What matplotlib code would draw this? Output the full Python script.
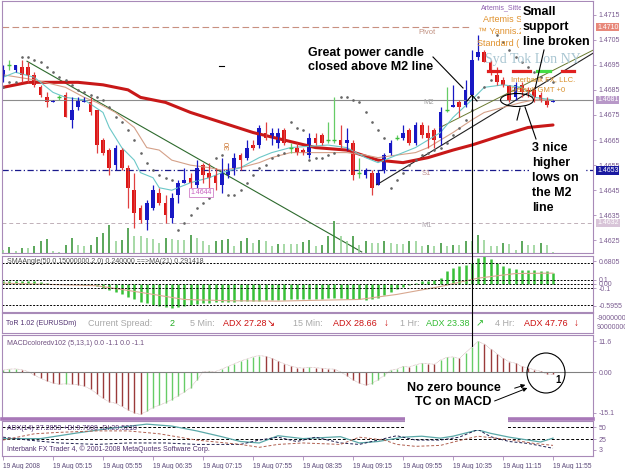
import matplotlib
matplotlib.use('Agg')
import matplotlib.pyplot as plt
import matplotlib.transforms as mtransforms
from matplotlib.patches import Rectangle, Ellipse, FancyArrowPatch
from matplotlib.lines import Line2D
import numpy as np

plt.rcParams['font.family'] = ['Liberation Sans', 'DejaVu Sans']

W, H = 625, 469

# ---- EURUSDm M5 candles, 19 Aug 2008 ----
opens = [1.4690, 1.4695, 1.4693, 1.4694, 1.4694, 1.4691, 1.4686, 1.4682, 1.4680, 1.4682,
         1.4683, 1.4673, 1.4678, 1.4680, 1.4680, 1.4677, 1.4665, 1.4661, 1.4655, 1.4661,
         1.4654, 1.4645, 1.4638, 1.4633, 1.4638, 1.4644, 1.4640, 1.4634, 1.4643, 1.4648,
         1.4650, 1.4647, 1.4655, 1.4652, 1.4651, 1.4647, 1.4651, 1.4654, 1.4659, 1.4658,
         1.4663, 1.4663, 1.4668, 1.4666, 1.4664, 1.4669, 1.4662, 1.4662, 1.4661, 1.4659,
         1.4666, 1.4667, 1.4665, 1.4665, 1.4665, 1.4664, 1.4664, 1.4652, 1.4651, 1.4652,
         1.4647, 1.4653, 1.4660, 1.4666, 1.4666, 1.4669, 1.4664, 1.4671, 1.4668, 1.4669,
         1.4666, 1.4677, 1.4678, 1.4680, 1.4679, 1.4683, 1.4698, 1.4700, 1.4696, 1.4691,
         1.4689, 1.4687, 1.4682, 1.4687, 1.4685, 1.4685, 1.4683, 1.4681, 1.4680]
highs = [1.4695, 1.4697, 1.4695, 1.4697, 1.4696, 1.4692, 1.4687, 1.4684, 1.4681, 1.4683,
         1.4684, 1.4682, 1.4682, 1.4682, 1.4682, 1.4677, 1.4666, 1.4662, 1.4663, 1.4662,
         1.4655, 1.4652, 1.4639, 1.4641, 1.4647, 1.4646, 1.4643, 1.4644, 1.4649, 1.4654,
         1.4652, 1.4657, 1.4656, 1.4656, 1.4654, 1.4658, 1.4656, 1.4660, 1.4660, 1.4665,
         1.4665, 1.4671, 1.4672, 1.4670, 1.4670, 1.4670, 1.4664, 1.4664, 1.4662, 1.4668,
         1.4668, 1.4668, 1.4672, 1.4682, 1.4671, 1.4670, 1.4665, 1.4658, 1.4654, 1.4653,
         1.4653, 1.4660, 1.4665, 1.4667, 1.4671, 1.4670, 1.4672, 1.4672, 1.4671, 1.4670,
         1.4678, 1.4686, 1.4687, 1.4681, 1.4689, 1.4701, 1.4707, 1.4701, 1.4697, 1.4694,
         1.4690, 1.4687, 1.4688, 1.4688, 1.4686, 1.4686, 1.4684, 1.4682, 1.4681]
lows = [1.4688, 1.4693, 1.4692, 1.4688, 1.4688, 1.4686, 1.4682, 1.4678, 1.4680, 1.4681,
        1.4674, 1.4670, 1.4677, 1.4680, 1.4675, 1.4660, 1.4659, 1.4651, 1.4653, 1.4653,
        1.4638, 1.4630, 1.4632, 1.4629, 1.4637, 1.4639, 1.4632, 1.4632, 1.4640, 1.4648,
        1.4646, 1.4646, 1.4648, 1.4646, 1.4645, 1.4644, 1.4650, 1.4651, 1.4653, 1.4657,
        1.4661, 1.4662, 1.4665, 1.4663, 1.4662, 1.4663, 1.4660, 1.4659, 1.4659, 1.4658,
        1.4663, 1.4663, 1.4664, 1.4664, 1.4662, 1.4661, 1.4649, 1.4650, 1.4650, 1.4643,
        1.4647, 1.4652, 1.4659, 1.4665, 1.4665, 1.4663, 1.4663, 1.4666, 1.4662, 1.4662,
        1.4663, 1.4676, 1.4678, 1.4674, 1.4678, 1.4682, 1.4697, 1.4696, 1.4691, 1.4687,
        1.4686, 1.4680, 1.4681, 1.4682, 1.4682, 1.4680, 1.4680, 1.4678, 1.4680]
closes = [1.4693, 1.4695, 1.4695, 1.4691, 1.4691, 1.4687, 1.4683, 1.4680, 1.4681, 1.4682,
          1.4674, 1.4677, 1.4681, 1.4681, 1.4676, 1.4663, 1.4660, 1.4654, 1.4662, 1.4654,
          1.4646, 1.4636, 1.4633, 1.4640, 1.4645, 1.4640, 1.4635, 1.4642, 1.4648, 1.4649,
          1.4648, 1.4654, 1.4651, 1.4650, 1.4648, 1.4652, 1.4653, 1.4658, 1.4657, 1.4662,
          1.4662, 1.4670, 1.4666, 1.4668, 1.4668, 1.4664, 1.4662, 1.4660, 1.4660, 1.4666,
          1.4664, 1.4664, 1.4665, 1.4665, 1.4663, 1.4665, 1.4651, 1.4652, 1.4653, 1.4646,
          1.4652, 1.4659, 1.4664, 1.4666, 1.4668, 1.4664, 1.4671, 1.4667, 1.4666, 1.4665,
          1.4676, 1.4677, 1.4679, 1.4678, 1.4685, 1.4697, 1.4700, 1.4696, 1.4692, 1.4688,
          1.4687, 1.4681, 1.4687, 1.4684, 1.4684, 1.4682, 1.4681, 1.4679, 1.4681]
volumes = [3, 6, 2, 5, 5, 7, 12, 14, 2, 1, 8, 15, 8, 7, 8, 16, 20, 28, 12, 13,
           25, 17, 17, 15, 14, 10, 15, 14, 13, 13, 18, 15, 12, 8, 12, 13, 14, 7, 12, 15,
           10, 13, 12, 7, 9, 9, 9, 9, 11, 13, 7, 8, 17, 32, 17, 12, 17, 8, 12, 10,
           10, 12, 10, 9, 9, 12, 12, 7, 8, 7, 10, 7, 8, 8, 12, 12, 18, 13, 7, 7,
           10, 9, 3, 12, 8, 8, 10, 8, 1]
sar = [1.4686, 1.4688, 1.4688,
       1.4698, 1.4698, 1.4697, 1.4696, 1.4694, 1.4692, 1.4690, 1.4689, 1.4687, 1.4685, 1.4684,
       1.4683, 1.4682, 1.4681, 1.4678, 1.4674, 1.4672, 1.4669, 1.4665, 1.4660, 1.4656, 1.4653,
       1.4651, 1.4650, 1.4649,
       1.4629, 1.4632, 1.4635, 1.4638, 1.4640, 1.4642,
       1.4658, 1.4659,
       1.4643, 1.4643, 1.4645, 1.4648, 1.4651, 1.4654, 1.4655, 1.4658, 1.4659, 1.4660,
       1.4672, 1.4670, 1.4669,
       1.4657, 1.4658, 1.4658, 1.4659, 1.4660,
       1.4682, 1.4682, 1.4681, 1.4680, 1.4676, 1.4672, 1.4669, 1.4666,
       1.4646, 1.4649, 1.4652, 1.4655, 1.4657, 1.4659, 1.4660, 1.4661, 1.4662, 1.4664,
       1.4667, 1.4670, 1.4673, 1.4677, 1.4682, 1.4686, 1.4689,
       1.4707, 1.4704, 1.4701, 1.4698, 1.4696, 1.4694, 1.4692, 1.4690, 1.4689, 1.4688]

# moving averages (vertices)
slow_bars = [0, 4, 8, 12, 16, 20, 22, 26, 30, 35, 40, 45, 50, 55, 60, 64, 68, 72, 75, 80, 84, 88]
slow_vals = [1.4686, 1.4688, 1.4688, 1.4688, 1.4687, 1.4685, 1.4682, 1.4680, 1.4676, 1.4672, 1.4668,
             1.4665, 1.4662, 1.4661, 1.4657, 1.4656, 1.4658, 1.4661, 1.4663, 1.4667, 1.4670, 1.4671]
cyan_bars = [0, 2, 5, 8, 10, 13, 16, 17, 19, 21, 22, 24, 25, 27, 30, 33, 35, 38, 41, 43, 46, 52,
             55, 58, 60, 63, 66, 68, 70, 72, 75, 77, 80, 83, 85, 88]
cyan_vals = [1.4690, 1.4692, 1.4690, 1.4684, 1.4682, 1.4681, 1.4676, 1.4670, 1.4662, 1.4657, 1.4652,
             1.4650, 1.4646, 1.4645, 1.4648, 1.4650, 1.4652, 1.4654, 1.4658, 1.4660, 1.4662, 1.4663,
             1.4662, 1.4658, 1.4656, 1.4659, 1.4662, 1.4665, 1.4668, 1.4674, 1.4681, 1.4686, 1.4687,
             1.4686, 1.4682, 1.4681]
tan_bars = [0, 5, 10, 13, 15, 18, 21, 23, 25, 27, 30, 33, 35, 38, 41, 43, 46, 50, 55, 58, 60, 63,
            66, 68, 72, 75, 77, 80, 83, 85, 88]
tan_vals = [1.4691, 1.4689, 1.4686, 1.4682, 1.4680, 1.4676, 1.4670, 1.4662, 1.4661, 1.4657, 1.4655,
            1.4654, 1.4653, 1.4654, 1.4656, 1.4658, 1.4660, 1.4660, 1.4660, 1.4659, 1.4658, 1.4659,
            1.4660, 1.4662, 1.4668, 1.4673, 1.4676, 1.4678, 1.4680, 1.4681, 1.4681]

# pivot levels
pivot, m2, s1, m1 = 1.4710, 1.4681, 1.4653, 1.4632

# SMAAngle histogram + its MA(21)
sma_angle = [0.06, 0.07, 0.08, 0.08, 0.07, 0.06, 0.04, 0.02, 0.01, 0.01,
             0.0, 0.0, -0.01, -0.02, -0.03, -0.05, -0.10, -0.15, -0.20, -0.25,
             -0.30, -0.35, -0.42, -0.46, -0.50, -0.53, -0.56, -0.58, -0.55, -0.52,
             -0.50, -0.48, -0.46, -0.45, -0.44, -0.43, -0.42, -0.42, -0.41, -0.41,
             -0.40, -0.40, -0.39, -0.39, -0.38, -0.38, -0.37, -0.37, -0.36, -0.36,
             -0.35, -0.35, -0.34, -0.34, -0.34, -0.35, -0.36, -0.37, -0.38, -0.37,
             -0.33, -0.27, -0.20, -0.12, -0.06, -0.02, 0.03, 0.06, 0.08, 0.10,
             0.14, 0.30, 0.38, 0.42, 0.45, 0.50, 0.62, 0.68, 0.60, 0.50,
             0.42, 0.38, 0.35, 0.34, 0.34, 0.33, 0.32, 0.30, 0.26]
sma_ma_bars = [0, 15, 22, 29, 36, 44, 50, 57, 63, 70, 76, 82, 88]
sma_ma_vals = [0.02, -0.04, -0.2, -0.37, -0.40, -0.41, -0.39, -0.37, -0.25, -0.06, 0.14, 0.25, 0.26]

# MACDcolored histogram
macd = [0.8, 1.2, 1.3, 1.0, 0.3, -1.0, -2.2, -3.2, -4.0, -4.5,
        -4.3, -4.5, -4.6, -5.2, -6.3, -8.0, -9.8, -11.0, -11.6, -12.8,
        -14.0, -15.2, -15.8, -14.6, -13.2, -12.3, -11.4, -10.2, -8.8, -7.4,
        -5.8, -3.0, 0.3, 0.4, 0.3, 1.2, 2.2, 3.2, 4.2, 5.0,
        5.8, 6.3, 6.0, 5.2, 4.2, 3.2, 2.4, 1.8, 1.6, 1.9,
        1.8, 1.5, 1.3, 1.2, 0.2, -1.2, -2.8, -4.0, -4.8, -4.2,
        -2.8, -1.2, 0.8, 1.2, 2.2, 2.0, 2.8, 3.4, 3.3, 3.0,
        4.6, 5.6, 5.8, 5.2, 7.3, 9.4, 11.6, 10.6, 8.8, 7.0,
        5.2, 4.0, 3.4, 2.2, 1.6, 1.0, 0.4, -0.6, -0.8]

# ADX(14)
adx_bars = [0, 6, 9, 12, 17, 23, 27, 31, 35, 38, 41, 44, 48, 54, 57, 60, 64, 67, 70, 72, 76, 78, 81, 84, 86, 88]
adx_vals = [26, 26, 32, 38, 47, 56, 52, 42, 30, 20, 17, 32, 26, 30, 17, 20, 29, 31, 27, 31, 44, 37, 29, 23, 19, 27]
pdi_bars = [0, 4, 9, 15, 20, 26, 31, 38, 41, 44, 47, 50, 54, 57, 61, 63, 66, 70, 73, 76, 78, 81, 84, 88]
pdi_vals = [29, 23, 17, 14, 17, 17, 14, 14, 23, 29, 20, 29, 17, 14, 26, 32, 23, 23, 29, 45, 30, 20, 16, 6]
mdi_bars = [0, 5, 9, 15, 20, 25, 31, 38, 41, 44, 48, 54, 57, 61, 63, 66, 70, 73, 76, 78, 81, 85, 88]
mdi_vals = [23, 36, 39, 42, 42, 36, 23, 14, 8, 14, 17, 14, 29, 23, 14, 10, 12, 22, 31, 28, 24, 16, 12]

time_ticks = [0, 8, 16, 24, 32, 40, 48, 56, 64, 72, 80, 88]
time_labels = ['19 Aug 2008', '19 Aug 05:15', '19 Aug 05:55', '19 Aug 06:35', '19 Aug 07:15',
               '19 Aug 07:55', '19 Aug 08:35', '19 Aug 09:15', '19 Aug 09:55', '19 Aug 10:35',
               '19 Aug 11:15', '19 Aug 11:55']
price_ticks = [1.4625, 1.4635, 1.4645, 1.4655, 1.4665, 1.4675, 1.4685, 1.4695, 1.4705, 1.4715]

SPINE = '#a88ab8'
LBL = '#7a5c90'
BLUE = '#1818c4'
RED = '#dd1414'
GREEN = '#3cbf3c'
XMIN, XMAX = -0.16, 94.4

fig = plt.figure(figsize=(6.25, 4.69), dpi=100)
fig.patch.set_facecolor('white')


def fx(x):
    return x / W


def fy(y):
    return 1 - y / H


def right_ticks(a):
    a.yaxis.tick_right()
    a.tick_params(axis='y', length=2, width=0.6, colors=SPINE, labelcolor=LBL, labelsize=5, pad=2)


def panel(top, bottom):
    a = fig.add_axes([2 / W, 1 - bottom / H, 591 / W, (bottom - top) / H])
    a.set_xlim(XMIN, XMAX)
    a.set_xticks([])
    for s in a.spines.values():
        s.set_color(SPINE)
        s.set_linewidth(0.8)
    right_ticks(a)
    return a


def fline(xs, ys, **kw):
    fig.add_artist(Line2D([fx(x) for x in xs], [fy(y) for y in ys], transform=fig.transFigure, **kw))


# ---------- main price panel ----------
ax = panel(1, 253)
x = np.arange(len(opens))
o, hi, lo, c = map(np.array, (opens, highs, lows, closes))
up = c > o + 1e-7
dn = c < o - 1e-7
dj = ~(up | dn)

# volumes share the bottom of the price window
axv = ax.twinx()
axv.set_ylim(0, 251)
axv.axis('off')
vol = np.array(volumes)
vcol = ['#2f8f2f' if i > 0 and vol[i] > vol[i - 1] else '#8fcf8f' for i in range(len(vol))]
axv.vlines(x, 0, vol, colors=vcol, lw=1.1)

right_ticks(ax)
ax.set_ylim(1.4620, 1.47204)
ax.set_yticks(price_ticks)
ax.set_yticklabels([f'{v:.4f}' for v in price_ticks])

ax.axhline(m2, color='#8c8c8c', lw=0.8)
ax.axhline(s1, color='#1a1a8c', lw=0.9, ls=(0, (5, 2, 1, 2)))
ax.axhline(m1, color='#c0b0b8', lw=0.7, ls=(0, (4, 3)))
ax.plot([XMIN, 75], [pivot, pivot], color='#c89080', lw=0.8, ls=(0, (6, 3)))
ax.text(66.4, 1.4708, 'Pivot', color='#c09080', fontsize=5.5, va='center')
ax.text(67.2, 1.4680, 'M2', color='#a0a0a0', fontsize=5.5, va='center')
ax.text(67.0, 1.46516, 'S1', color='#c09090', fontsize=5.5, va='center')
ax.text(66.9, 1.46308, 'M1', color='#b0a8b0', fontsize=5.5, va='center')

# trendlines
ax.plot([3.84, 57.4], [1.46964, 1.46204], color='#2d6a2d', lw=0.8)
ax.plot([59.8, 94.4], [1.46472, 1.46996], color='#202020', lw=0.8)
ax.plot([69.9, 94.4], [1.46700, 1.47008], color='#6a7a30', lw=0.7)

ax.plot(slow_bars, slow_vals, color='#c81818', lw=2.2, solid_capstyle='round')
ax.plot(tan_bars, tan_vals, color='#d4a088', lw=0.8)
ax.plot(cyan_bars, cyan_vals, color='#6cc8c8', lw=0.8)

ax.vlines(x[up], lo[up], hi[up], color=BLUE, lw=0.9)
ax.bar(x[up], c[up] - o[up], bottom=o[up], width=0.62, color=BLUE)
ax.vlines(x[dn], lo[dn], hi[dn], color='#e04040', lw=0.9)
ax.bar(x[dn], o[dn] - c[dn], bottom=c[dn], width=0.62, color=RED)
ax.vlines(x[dj], lo[dj], hi[dj], color='#66cc66', lw=0.9)
ax.hlines(o[dj], x[dj] - 0.32, x[dj] + 0.32, color=GREEN, lw=1.0)

ax.plot(x, sar, ls='none', marker='o', ms=0.9, color='#666666')

ax.text(30, 1.4644, '1.4644', color='#c860c0', fontsize=5, va='center',
        bbox=dict(boxstyle='square,pad=0.15', fc='white', ec='#d080c8', lw=0.6))
ax.text(36, 1.4663, '30', color='#d08040', fontsize=6, rotation=90, ha='center', va='center')
ax.plot([34.6, 35.4], [1.46944, 1.46944], color='black', lw=0.8)

yt = mtransforms.blended_transform_factory(ax.transAxes, ax.transData)
for val, bg in [(pivot, '#e8887a'), (m2, '#b898c8'), (s1, '#1a1aa0'), (m1, '#d8c4d8')]:
    ax.text(1.007, val, f'{val:.4f}', transform=yt, color='white', fontsize=5, va='center',
            ha='left', clip_on=False, zorder=6,
            bbox=dict(boxstyle='square,pad=0.12', fc=bg, ec='none'))

# ---------- SMAAngle panel ----------
ax2 = panel(256, 312)
ax2.set_ylim(-0.67, 0.67)
ax2.vlines(x, 0, sma_angle, color='#38c038', lw=1.8)
ax2.plot(sma_ma_bars, sma_ma_vals, color='#d8a890', lw=0.8)
for lv in [0.5, 0.1, 0.0, -0.1, -0.5]:
    ax2.axhline(lv, color='black', lw=0.7, ls=(0, (2, 1.5)))
ax2.set_yticks([0.55, 0.1, 0.0, -0.1, -0.52])
ax2.set_yticklabels(['0.6805', '0.1', '0.00', '-0.1', '-0.5955'])
ax2.text(0.008, 0.9, 'SMAAngle(50,0.15000000,2,0) 0.240000 ==>MA(21) 0.291418',
         transform=ax2.transAxes, fontsize=5, color='#505050', va='center')

# ---------- ToR row ----------
ax3 = panel(313, 333)
ax3.set_yticks([])
ax3.set_ylim(0, 1)
tor_items = [('ToR 1.02 (EURUSDm)', 6, '#503070', 5), ('Current Spread:', 88, '#a8a8a8', 6.5),
             ('2', 170, '#22aa22', 6.5), ('5 Min:', 190, '#a8a8a8', 6.5),
             ('ADX 27.28', 223, '#cc1111', 6.5), ('\u2198', 267, '#cc1111', 7),
             ('15 Min:', 293, '#a8a8a8', 6.5), ('ADX 28.66', 333, '#cc1111', 6.5),
             ('\u2193', 384, '#cc1111', 7), ('1 Hr:', 400, '#a8a8a8', 6.5),
             ('ADX 23.38', 426, '#33bb33', 6.5), ('\u2197', 476, '#33bb33', 7),
             ('4 Hr:', 495, '#a8a8a8', 6.5), ('ADX 47.76', 524, '#cc1111', 6.5),
             ('\u2193', 574, '#cc1111', 7)]
for txt, px, col, fs in tor_items:
    fig.text(fx(px), fy(323), txt, color=col, fontsize=fs, va='center')
fig.text(fx(597), fy(318), '-90000000', color=LBL, fontsize=5, va='center')
fig.text(fx(597), fy(327), '90000000', color=LBL, fontsize=5, va='center')

# ---------- MACD panel ----------
ax4 = panel(335, 419)
ax4.set_ylim(-17.5, 14.0)
mc = np.array(macd)
mcol = ['#66cc66' if i == 0 or mc[i] >= mc[i - 1] else '#9a3a3a' for i in range(len(mc))]
ax4.vlines(x, 0, mc, colors=mcol, lw=1.0)
ax4.plot(x, mc, color='#c8a8a8', lw=0.5, ls=(0, (1, 1)))
ax4.axhline(0, color='#808080', lw=0.8)
ax4.set_yticks([11.6, 0.0, -15.1])
ax4.set_yticklabels(['11.6', '0.00', '-15.1'])
ax4.spines['bottom'].set_linewidth(2.6)
ax4.spines['bottom'].set_color('#a878b8')
ax4.text(0.008, 0.9, 'MACDcoloredv102 (5,13,1) 0.0 -1.1 0.0 -1.1', transform=ax4.transAxes,
         fontsize=5, color='#705080', va='center')

# ---------- ADX panel ----------
ax5 = panel(421, 456)
ax5.set_ylim(-10, 62.5)
ax5.axhline(50, color='black', lw=0.7, ls=(0, (3, 2)))
ax5.axhline(25, color='black', lw=0.7, ls=(0, (3, 2)))
ax5.plot(adx_bars, adx_vals, color='#5aa8a8', lw=0.9)
ax5.plot(pdi_bars, pdi_vals, color='#202050', lw=0.7, ls=(0, (3, 2)))
ax5.plot(mdi_bars, mdi_vals, color='#b06050', lw=0.7, ls=(0, (3, 2)))
ax5.set_yticks([50, 25, 3])
ax5.set_yticklabels(['50', '25', '3'])
ax5.set_xticks(time_ticks)
ax5.set_xticklabels(time_labels, ha='left')
ax5.tick_params(axis='x', length=3, width=0.6, colors=SPINE, labelcolor='#5a4878', labelsize=4.8, pad=2)
ax5.text(0.008, 0.8, 'ADX(14) 27.2853 +DI:9.7608 -DI:29.5218', transform=ax5.transAxes,
         fontsize=5, color='#503070', va='center')
ax5.text(0.008, 0.2, 'Interbank FX Trader 4, \u00a9 2001-2008 MetaQuotes Software Corp.',
         transform=ax5.transAxes, fontsize=5, color='#503070', va='center')

# ---------- chart objects in the upper right ----------
fig.text(fx(481), fy(8), 'Artemis_Sitte', color='#9060b0', fontsize=5, va='center')
fig.text(fx(483), fy(20), 'Artemis S', color='#e0922e', fontsize=6.5, va='center')
fig.text(fx(478), fy(32), '\u2122 Yannis.2', color='#e0922e', fontsize=6.5, va='center')
fig.text(fx(477), fy(44), 'Standard (', color='#e0922e', fontsize=6.5, va='center')
fig.text(fx(485), fy(60), 'Syd Tok Lon NY', color='#a9c6d2', fontsize=10, va='center',
         family='Liberation Serif')
for (xa, xb), col in [((488, 500), '#e02020'), ((513, 530), '#e02020'),
                      ((537, 550), '#44dd44'), ((562, 574), '#e02020')]:
    fline([xa, xb], [71, 71], color=col, lw=2.3, zorder=4)
fig.text(fx(511), fy(80), 'Interbank FX, LLC.', color='#d8902a', fontsize=5.5, va='center')
fig.text(fx(511), fy(90), 'Default GMT +0', color='#d8902a', fontsize=5.5, va='center')

# ---------- annotations pasted on the screenshot ----------
for rx, ry, rw, rh in [(521, 2, 71, 45), (529, 138, 57, 78), (405, 377, 103, 53)]:
    fig.add_artist(Rectangle((fx(rx), fy(ry + rh)), rw / W, rh / H, transform=fig.transFigure,
                             fc='white', ec='none', zorder=10))

bold = dict(fontsize=9, fontweight='bold', color='black', va='center', zorder=11)
for txt, px, py in [('Small', 523, 12), ('support', 523, 27), ('line broken', 523, 42),
                    ('Great power candle', 308, 53), ('closed above M2 line', 308, 67),
                    ('3 nice', 532, 148), ('higher', 532, 163), ('lows on', 532, 178),
                    ('the M2', 532, 193), ('line', 532, 208),
                    ('No zero bounce', 407, 388), ('TC on MACD', 415, 402)]:
    fig.text(fx(px), fy(py), txt, **bold)

fline([472, 472], [96, 346], color='black', lw=0.8, zorder=12)
fline([467, 472, 477], [101, 95, 101], color='black', lw=0.8, zorder=12)
fline([433, 463], [57, 88], color='black', lw=0.8, zorder=12)
fline([544, 535], [50, 89], color='black', lw=0.8, zorder=12)
fline([520, 517], [108, 120], color='black', lw=0.8, zorder=12)
fline([525, 536], [107, 139], color='black', lw=0.8, zorder=12)
fig.add_artist(Ellipse((fx(517), fy(100)), 33 / W, 13 / H, transform=fig.transFigure,
                       fill=False, ec='black', lw=0.8, zorder=12))
fig.add_artist(Ellipse((fx(546), fy(373)), 38 / W, 40 / H, transform=fig.transFigure,
                       fill=False, ec='black', lw=0.8, zorder=12))
fig.text(fx(555), fy(380), '1', fontsize=7, fontweight='bold', color='black', va='center', zorder=12)
for (xa, ya), (xb, yb) in [((512, 389), (528, 384)), ((492, 402), (530, 387))]:
    fig.add_artist(FancyArrowPatch((fx(xa), fy(ya)), (fx(xb), fy(yb)), transform=fig.transFigure,
                                   arrowstyle='-|>', mutation_scale=6, lw=0.7, color='black',
                                   zorder=12))

fig.savefig('out.png', dpi=100, facecolor='white')
